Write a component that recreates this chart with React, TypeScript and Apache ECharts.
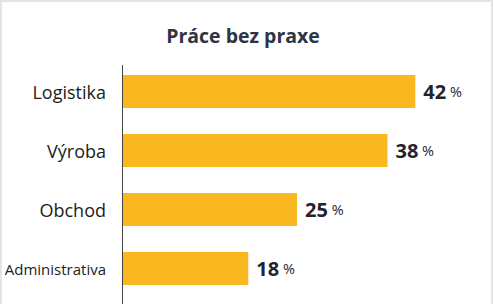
import React, { useEffect, useRef } from "react";
import * as echarts from "echarts";

const title = "Práce bez praxe";
const categories = ["Logistika", "Výroba", "Obchod", "Administrativa"];
const values = [42, 38, 25, 18];
const unit = "%";

export default function App() {
  const ref = useRef<HTMLDivElement>(null);
  useEffect(() => {
    document.body.style.margin = "0";
    const chart = echarts.init(ref.current!, null, { renderer: "svg" });
    chart.setOption({
      animation: false,
      backgroundColor: "#ffffff",
      title: {
        text: title,
        left: 238,
        textAlign: "center",
        top: 20,
        textStyle: {
          fontFamily: "Open Sans",
          fontWeight: "bold",
          fontSize: 19.5,
          color: "#2e3444",
        },
      },
      grid: {
        left: 123,
        right: 22,
        top: 62,
        height: 236,
        containLabel: false,
        outerBoundsMode: "none",
      },
      xAxis: {
        type: "value",
        min: 0,
        max: 50,
        show: false,
      },
      yAxis: {
        type: "category",
        data: categories,
        inverse: true,
        axisLine: { show: false },
        axisTick: { show: false },
        axisLabel: {
          margin: 17,
          formatter: (v: string) => (v.length > 10 ? `{n|${v}}` : `{w|${v}}`),
          rich: {
            w: {
              fontFamily: "Open Sans",
              fontSize: 18,
              color: "#1c1c1c",
            },
            n: {
              fontFamily: "Open Sans",
              fontSize: 15,
              color: "#1c1c1c",
            },
          },
        },
      },
      series: [
        {
          type: "bar",
          data: values,
          barWidth: 33,
          itemStyle: { color: "#f9b720" },
          label: {
            show: true,
            position: "right",
            distance: 8,
            formatter: (p: any) => `{v|${p.value}}{u| ${unit}}`,
            rich: {
              v: {
                fontFamily: "Open Sans",
                fontWeight: "bold",
                fontSize: 20,
                color: "#1f2430",
              },
              u: {
                fontFamily: "Open Sans",
                fontSize: 14.5,
                color: "#1f2430",
              },
            },
          },
        },
      ],
      graphic: [
        {
          type: "line",
          shape: { x1: 122.5, y1: 65, x2: 122.5, y2: 304 },
          style: { stroke: "#444", lineWidth: 1 },
        },
        {
          type: "polyline",
          shape: { points: [[1, 304], [1, 1], [492, 1], [492, 304]] },
          style: { stroke: "#e4e4e4", lineWidth: 2, fill: null },
        },
      ],
    });
    return () => chart.dispose();
  }, []);
  return <div ref={ref} style={{ width: 493, height: 304 }} />;
}
